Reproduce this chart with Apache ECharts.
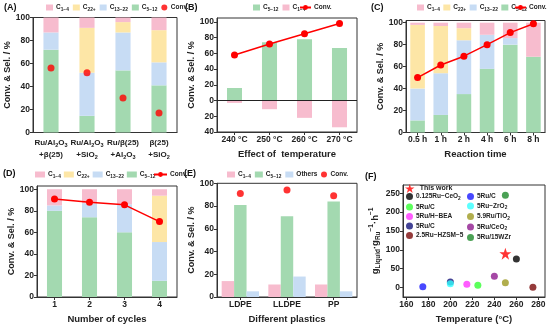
<!DOCTYPE html>
<html><head><meta charset="utf-8">
<script src="https://cdn.jsdelivr.net/npm/echarts@6/dist/echarts.min.js"></script>
<style>html,body{margin:0;padding:0;background:#fff}#c{width:550px;height:325px}</style>
</head><body><div id="c"></div>
<script>
// ---------- Panel A ----------
const catA = ['Ru/Al2O3\n+β(25)', 'Ru/Al2O3\n+SiO2', 'Ru/β(25)\n+Al2O3', 'β(25)\n+SiO2'];
const aC512 = [72, 14.5, 54, 41];
const aC1322 = [15, 37.5, 33, 20];
const aC22 = [0, 39, 9, 28];
const aC14 = [13, 9, 4, 11];
const aConv = [56, 52, 30, 17];
// ---------- Panel B ----------
const catB = ['240 °C', '250 °C', '260 °C', '270 °C'];
const bC512 = [16, 74, 78, 67];
const bC14 = [-3, -11, -22, -34];
const bConv = [58, 72, 85, 98];
// ---------- Panel C ----------
const catC = ['0.5 h', '1 h', '2 h', '4 h', '6 h', '8 h'];
const cC512 = [11, 16, 35, 58, 80, 69];
const cC1322 = [29, 38, 49, 31, 6, 0];
const cC22 = [58, 43, 11, 0, 0, 0];
const cC14 = [2, 3, 5, 11, 14, 31];
const cConv = [50, 61.5, 69.5, 80, 91, 99];
// ---------- Panel D ----------
const catD = ['1', '2', '3', '4'];
const dC512 = [80, 74, 60, 15];
const dC1322 = [5, 13, 26, 36];
const dC22 = [0, 0, 0, 43];
const dC14 = [15, 13, 14, 6];
const dConv = [91, 88, 85.5, 70];
// ---------- Panel E ----------
const catE = ['LDPE', 'LLDPE', 'PP'];
const eC14 = [14, 11, 11];
const eC512 = [81, 71, 84];
const eOthers = [5, 18, 5];
const eConv = [91, 94, 89];
// ---------- Panel F ----------
const fNames = ['This work', '0.125Ru−CeO2', '5Ru/C', '5Ru/H−BEA', '5Ru/C', '2.5Ru−HZSM−5',
                '5Ru/C', '5Ru−ZrO2', '5.9Ru/TiO2', '5Ru/CeO2', '5Ru/15WZr'];
const fTemp = [250, 260, 225, 215, 200, 275, 175, 200, 250, 240, 250];
const fRate = [90, 76, 6, 9, 15, 1, 2, 10, 13, 30, 245];
const fxTicks = [160, 180, 200, 220, 240, 260, 280];
const fyTicks = [0, 50, 100, 150, 200, 250];

// ---------- styles ----------
const FONT = "'Liberation Sans', Arial, sans-serif";
const GREEN = '#A3D9B0', BLUE = '#C7DCF4', YELLOW = '#FDE6A6', PINK = '#F7BCCE', RED = '#FF0000';
const fColors = ['#FF0000', '#000000', '#33FF33', '#FF33FF', '#14147A', '#7A0A0A',
                 '#1A1AFF', '#33FFFF', '#9E9A22', '#8E1A8E', '#1E8A2A'];
const STAR = 'path://M50,0 L61.8,35.4 L99,35.4 L69,57.3 L80.4,92.7 L50,70.8 L19.6,92.7 L31,57.3 L1,35.4 L38.2,35.4 Z';

function chem(line, t, s) {
  let out = '', buf = '', i = 0;
  while (i < line.length) {
    const ch = line[i];
    if (/\d/.test(ch) && i > 0 && /[A-Za-z]/.test(line[i - 1])) {
      let j = i; while (j < line.length && /\d/.test(line[j])) j++;
      if (buf) out += '{' + t + '|' + buf + '}'; buf = '';
      out += '{' + s + '|' + line.slice(i, j) + '}';
      i = j;
    } else { buf += ch; i++; }
  }
  if (buf) out += '{' + t + '|' + buf + '}';
  return out;
}
const lab = {
  C14: '{t|C}{s|1−4}', C22: '{t|C}{s|22+}', C1322: '{t|C}{s|13−22}', C512: '{t|C}{s|5−12}',
  conv: '{t|Conv.}', oth: '{t|Others}'
};
const legRich = {
  t: { fontSize: 6.5, fontWeight: 'bold', fontFamily: FONT, color: '#222', lineHeight: 9 },
  s: { fontSize: 4.8, fontWeight: 'bold', fontFamily: FONT, color: '#222', lineHeight: 5, verticalAlign: 'bottom' }
};
function legend(data, left, top, extra) {
  return Object.assign({
    data: data, left: left, top: top, itemWidth: 7, itemHeight: 6, itemGap: 4,
    icon: 'rect', selectedMode: false, padding: 0,
    textStyle: { fontFamily: FONT, fontSize: 6.5, fontWeight: 'bold', color: '#222', rich: legRich, padding: [0, 0, 0, -2] },
    formatter: function (n) {
      const k = n.split('_')[1];
      if (n[0] === 'F') return chem(fNames[+k], 't', 's');
      return lab[k];
    }
  }, extra || {});
}

const tickLabel = { fontFamily: FONT, fontSize: 8.5, fontWeight: 'bold', color: '#222', margin: 3 };
const nameStyle = { fontFamily: FONT, fontSize: 9.5, fontWeight: 'bold', color: '#222' };
const axLine = { show: true, onZero: false, lineStyle: { color: '#333', width: 1 } };
const axTick = { show: true, inside: false, length: 3, lineStyle: { color: '#333' } };

function yAxis(gi, min, max, extra) {
  return Object.assign({
    type: 'value', gridIndex: gi, min: min, max: max, interval: 20,
    name: 'Conv. & Sel. / %', nameLocation: 'middle', nameGap: 17, nameTextStyle: Object.assign({}, nameStyle, { fontSize: 9 }),
    axisLine: axLine, axisTick: axTick, splitLine: { show: false },
    axisLabel: Object.assign({}, tickLabel)
  }, extra || {});
}
function xCat(gi, data, name, extra) {
  return Object.assign({
    type: 'category', gridIndex: gi, data: data, name: name, nameLocation: 'middle', nameGap: 17,
    nameTextStyle: nameStyle, axisLine: axLine, axisTick: Object.assign({ alignWithLabel: true }, axTick),
    axisLabel: Object.assign({}, tickLabel, { interval: 0 })
  }, extra || {});
}
const gridBase = { show: true, borderColor: '#333', borderWidth: 1, containLabel: false };

function bar(name, xi, data, color, stack, w, extra) {
  return Object.assign({ type: 'bar', name: name, xAxisIndex: xi, yAxisIndex: xi, data: data,
    stack: stack, barWidth: w, itemStyle: { color: color }, emphasis: { disabled: true } }, extra || {});
}
function convLine(name, xi, data) {
  return { type: 'line', name: name, xAxisIndex: xi, yAxisIndex: xi, data: data, symbol: 'circle', symbolSize: 7,
    itemStyle: { color: RED }, lineStyle: { color: RED, width: 1.5 }, z: 5 };
}
function convDot(name, xi, data) {
  return { type: 'scatter', name: name, xAxisIndex: xi, yAxisIndex: xi, data: data, symbol: 'circle', symbolSize: 7,
    itemStyle: { color: RED }, z: 5 };
}

const catRich = {
  t: { fontFamily: FONT, fontSize: 8, fontWeight: 'bold', color: '#222', lineHeight: 12 },
  s: { fontFamily: FONT, fontSize: 5.5, fontWeight: 'bold', color: '#222', lineHeight: 6, verticalAlign: 'bottom' }
};

const fSeries = fNames.map(function (n, i) {
  return { type: 'scatter', name: 'F_' + i, xAxisIndex: 5, yAxisIndex: 5,
    data: [[fTemp[i], fRate[i]]], symbol: i === 0 ? STAR : 'circle', symbolSize: i === 0 ? 12 : 7,
    itemStyle: { color: fColors[i] }, z: i === 0 ? 6 : 4 };
});

const option = {
  animation: false,
  textStyle: { fontFamily: FONT },
  grid: [
    Object.assign({ left: 33, top: 17.5, width: 144, height: 115 }, gridBase),
    Object.assign({ left: 217, top: 18, width: 140, height: 114 }, gridBase),
    Object.assign({ left: 406, top: 20.5, width: 139, height: 112 }, gridBase),
    Object.assign({ left: 37, top: 186, width: 140, height: 111.3 }, gridBase),
    Object.assign({ left: 217, top: 183.3, width: 140, height: 114.4 }, gridBase),
    Object.assign({ left: 403, top: 185, width: 142, height: 112 }, gridBase)
  ],
  xAxis: [
    xCat(0, catA, '', { axisTick: { show: false }, axisLabel: { interval: 0, margin: 4, rich: catRich, formatter: function (v) { return v.split('\n').map(function (l) { return chem(l, 't', 's'); }).join('\n'); } } }),
    xCat(1, catB, 'Effect of  temperature'),
    xCat(2, catC, 'Reaction time'),
    xCat(3, catD, 'Number of cycles'),
    xCat(4, catE, 'Different plastics'),
    { type: 'value', gridIndex: 5, min: 157, max: 286, name: 'Temperature (°C)', nameLocation: 'middle', nameGap: 17,
      nameTextStyle: nameStyle, axisLine: axLine, splitLine: { show: false },
      axisTick: Object.assign({ customValues: fxTicks }, axTick),
      axisLabel: Object.assign({ customValues: fxTicks }, tickLabel) }
  ],
  yAxis: [
    yAxis(0, 0, 100),
    yAxis(1, -40, 105, { axisLabel: Object.assign({}, tickLabel, { formatter: function (v) { return Math.abs(v); } }) }),
    yAxis(2, 0, 102),
    yAxis(3, 0, 103),
    yAxis(4, 0, 100),
    { type: 'value', gridIndex: 5, min: -25, max: 272, nameLocation: 'middle', nameGap: 20,
      name: '{b|g}{s|Liquid}{b|·g}{s|Ru}{p|−1}{b|·h}{p|−1}',
      nameTextStyle: { rich: {
        b: { fontFamily: FONT, fontSize: 9.5, fontWeight: 'bold', color: '#222', lineHeight: 14 },
        s: { fontFamily: FONT, fontSize: 6.5, fontWeight: 'bold', color: '#222', lineHeight: 6, verticalAlign: 'bottom' },
        p: { fontFamily: FONT, fontSize: 6.5, fontWeight: 'bold', color: '#222', lineHeight: 6, verticalAlign: 'top' }
      } },
      axisLine: axLine, splitLine: { show: false },
      axisTick: Object.assign({ customValues: fyTicks }, axTick),
      axisLabel: Object.assign({ customValues: fyTicks }, tickLabel) }
  ],
  legend: [
    legend(['A_C14', 'A_C22', 'A_C1322', 'A_C512', { name: 'A_conv', icon: 'circle' }], 46, 4),
    legend(['B_C512', 'B_C14'], 253, 4),
    legend(['B_conv'], 299, 4, { itemWidth: 11, icon: null }),
    legend(['C_C14', 'C_C22', 'C_C1322', 'C_C512'], 417, 4, { itemGap: 3.5 }),
    legend(['C_conv'], 514, 4, { itemWidth: 11, icon: null }),
    legend(['D_C14', 'D_C22', 'D_C1322', 'D_C512'], 35, 171, { itemWidth: 10, itemGap: 3 }),
    legend(['D_conv'], 153, 171, { itemWidth: 13, icon: null }),
    legend(['E_C14', 'E_C512', 'E_oth'], 227, 171, { itemWidth: 8 }),
    legend([{ name: 'E_conv', icon: 'circle' }], 321, 171),
    legend(['F_0'], 405, 184, { icon: null, itemWidth: 10, itemHeight: 9,
      textStyle: { fontFamily: FONT, fontSize: 7, fontWeight: 'bold', color: '#222', rich: { t: { fontSize: 7, fontWeight: 'bold', fontFamily: FONT, color: '#222' } } } }),
    legend(['F_1', 'F_2', 'F_3', 'F_4', 'F_5'], 406, 193, { icon: 'circle', orient: 'vertical', itemGap: 2.5, itemWidth: 7, itemHeight: 7 }),
    legend(['F_6', 'F_7', 'F_8', 'F_9', 'F_10'], 467, 193, { icon: 'circle', orient: 'vertical', itemGap: 2.5, itemWidth: 7, itemHeight: 7 })
  ],
  graphic: [
    { type: 'text', left: 4, top: 3, style: { text: '(A)', font: "bold 9px " + FONT, fill: '#111' } },
    { type: 'text', left: 185, top: 3, style: { text: '(B)', font: "bold 9px " + FONT, fill: '#111' } },
    { type: 'text', left: 371, top: 3, style: { text: '(C)', font: "bold 9px " + FONT, fill: '#111' } },
    { type: 'text', left: 3, top: 169, style: { text: '(D)', font: "bold 9px " + FONT, fill: '#111' } },
    { type: 'text', left: 184, top: 169, style: { text: '(E)', font: "bold 9px " + FONT, fill: '#111' } },
    { type: 'text', left: 365, top: 172, style: { text: '(F)', font: "bold 9px " + FONT, fill: '#111' } }
  ],
  series: [
    bar('A_C512', 0, aC512, GREEN, 'A', '42%'),
    bar('A_C1322', 0, aC1322, BLUE, 'A', '42%'),
    bar('A_C22', 0, aC22, YELLOW, 'A', '42%'),
    bar('A_C14', 0, aC14, PINK, 'A', '42%'),
    convDot('A_conv', 0, aConv),

    bar('B_C512', 1, bC512, GREEN, 'B', '43%', { markLine: { silent: true, symbol: 'none', label: { show: false },
      lineStyle: { color: '#222', type: 'solid', width: 1 }, data: [{ yAxis: 0 }] } }),
    bar('B_C14', 1, bC14, PINK, 'B', '43%'),
    convLine('B_conv', 1, bConv),

    bar('C_C512', 2, cC512, GREEN, 'C', '63%'),
    bar('C_C1322', 2, cC1322, BLUE, 'C', '63%'),
    bar('C_C22', 2, cC22, YELLOW, 'C', '63%'),
    bar('C_C14', 2, cC14, PINK, 'C', '63%'),
    convLine('C_conv', 2, cConv),

    bar('D_C512', 3, dC512, GREEN, 'D', '43%'),
    bar('D_C1322', 3, dC1322, BLUE, 'D', '43%'),
    bar('D_C22', 3, dC22, YELLOW, 'D', '43%'),
    bar('D_C14', 3, dC14, PINK, 'D', '43%'),
    convLine('D_conv', 3, dConv),

    { type: 'bar', name: 'E_C14', xAxisIndex: 4, yAxisIndex: 4, data: eC14, itemStyle: { color: PINK }, barGap: '0%', barCategoryGap: '20%' },
    { type: 'bar', name: 'E_C512', xAxisIndex: 4, yAxisIndex: 4, data: eC512, itemStyle: { color: GREEN }, barGap: '0%', barCategoryGap: '20%' },
    { type: 'bar', name: 'E_oth', xAxisIndex: 4, yAxisIndex: 4, data: eOthers, itemStyle: { color: BLUE }, barGap: '0%', barCategoryGap: '20%' },
    convDot('E_conv', 4, eConv)
  ].concat(fSeries)
};
const chart = echarts.init(document.getElementById('c'), null, { renderer: 'canvas' });
chart.setOption(option);
</script></body></html>
